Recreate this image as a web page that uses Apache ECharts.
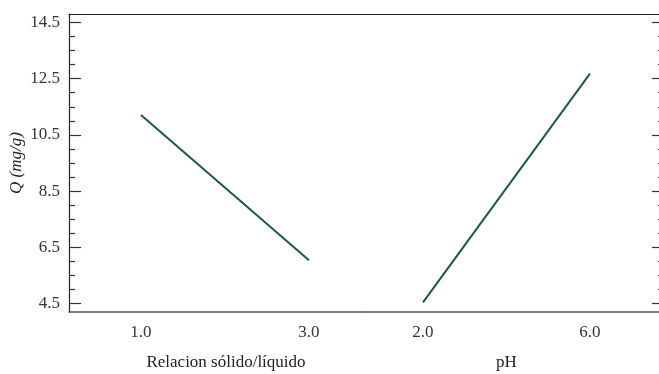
<!DOCTYPE html>
<html>
<head>
<meta charset="utf-8">
<script src="https://cdn.jsdelivr.net/npm/echarts@6/dist/echarts.min.js"></script>
<style>
  html, body { margin: 0; padding: 0; background: #fff; }
  #chart { width: 659px; height: 374px; }
</style>
</head>
<body>
<div id="chart"></div>
<script>
// factor levels and mean Q (mg/g) per level
const ratioLevels = [1.0, 3.0]
const ratioMeans = [11.21, 6.04]
const phLevels = [2.0, 6.0]
const phMeans = [4.54, 12.68]
const yTicks = [4.5, 6.5, 8.5, 10.5, 12.5, 14.5]
const yMinorTicks = [5.0, 5.5, 6.0, 7.0, 7.5, 8.0, 9.0, 9.5, 10.0, 11.0, 11.5, 12.0, 13.0, 13.5, 14.0]

const font = 'Liberation Serif'
const ink = '#222'
const lineColor = '#1b5652'

let myChart = echarts.init(document.getElementById('chart'))

function yAxisDef(grid, pos, vals, len, showLine, showLabel) {
  return {
    type: 'value',
    gridIndex: grid,
    position: pos,
    min: 4.2,
    max: 14.8,
    splitLine: { show: false },
    axisLine: { show: showLine, onZero: false, lineStyle: { color: ink, width: 1.2 } },
    axisTick: { show: true, inside: true, length: len, customValues: vals, lineStyle: { color: '#333', width: 1.2 } },
    axisLabel: {
      show: showLabel,
      customValues: vals,
      margin: 9,
      color: '#333',
      fontFamily: font,
      fontSize: 17,
      formatter: v => v.toFixed(1)
    }
  }
}

function xAxisDef(grid, min, max, vals, name, pad) {
  return {
    type: 'value',
    gridIndex: grid,
    min: min,
    max: max,
    splitLine: { show: false },
    axisLine: { show: true, onZero: false, lineStyle: { color: '#555', width: 1.5 } },
    axisTick: { show: false },
    axisLabel: {
      customValues: vals,
      margin: 12,
      color: '#333',
      fontFamily: font,
      fontSize: 17,
      formatter: v => v.toFixed(1)
    },
    name: name,
    nameLocation: 'middle',
    nameGap: 42,
    nameTextStyle: { color: '#222', fontFamily: font, fontSize: 17, padding: pad }
  }
}

function topBorder(grid) {
  return {
    type: 'value', gridIndex: grid, position: 'top', min: 0, max: 1,
    axisLine: { show: true, onZero: false, lineStyle: { color: ink, width: 1.2 } },
    axisTick: { show: false }, axisLabel: { show: false }, splitLine: { show: false }
  }
}

myChart.setOption({
  animation: false,
  grid: [
    { left: 69, top: 14, width: 297, height: 298, outerBoundsMode: 'none' },
    { left: 366, top: 14, width: 298, height: 298, outerBoundsMode: 'none' }
  ],
  xAxis: [
    xAxisDef(0, 0.143, 3.679, ratioLevels, 'Relacion sólido/líquido', [0, 0, 0, 17]),
    xAxisDef(1, 0.635, 7.773, phLevels, 'pH', [0, 17, 0, 0]),
    topBorder(0),
    topBorder(1)
  ],
  yAxis: [
    Object.assign(yAxisDef(0, 'left', yTicks, 12, true, true), {
      name: 'Q (mg/g)',
      nameLocation: 'middle',
      nameGap: 44,
      nameTextStyle: { color: '#222', fontFamily: font, fontSize: 17, fontStyle: 'italic' }
    }),
    yAxisDef(0, 'left', yMinorTicks, 6, false, false),
    yAxisDef(1, 'right', yTicks, 12, true, false),
    yAxisDef(1, 'right', yMinorTicks, 6, false, false)
  ],
  series: [
    {
      name: 'Relacion sólido/líquido',
      type: 'line',
      xAxisIndex: 0,
      yAxisIndex: 0,
      showSymbol: false,
      lineStyle: { color: lineColor, width: 2 },
      data: ratioLevels.map((x, i) => [x, ratioMeans[i]])
    },
    {
      name: 'pH',
      type: 'line',
      xAxisIndex: 1,
      yAxisIndex: 2,
      showSymbol: false,
      lineStyle: { color: lineColor, width: 2 },
      data: phLevels.map((x, i) => [x, phMeans[i]])
    }
  ]
})
</script>
</body>
</html>
